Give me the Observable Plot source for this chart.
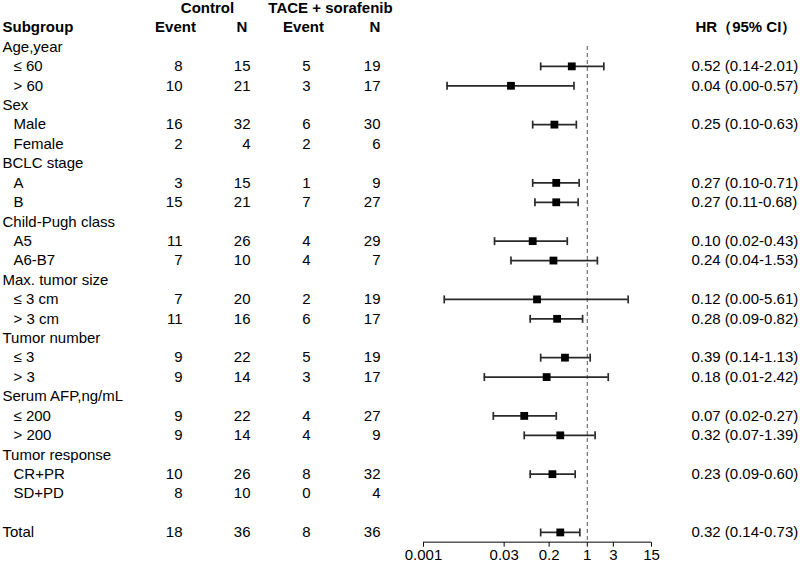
<!DOCTYPE html>
<html><head><meta charset="utf-8">
<script src="https://cdn.jsdelivr.net/npm/d3@7"></script>
<script src="https://cdn.jsdelivr.net/npm/@observablehq/plot@0.6"></script>
<style>body{margin:0;background:#fff} #chart svg{display:block}</style>
</head><body><div id="chart"></div>
<script>
// ---- data ----
const subgroups = ["Age,year","≤ 60","> 60","Sex","Male","Female","BCLC stage","A","B",
  "Child-Pugh class","A5","A6-B7","Max. tumor size","≤ 3 cm","> 3 cm","Tumor number","≤ 3","> 3",
  "Serum AFP,ng/mL","≤ 200","> 200","Tumor response","CR+PR","SD+PD","","Total"];
const indentLevel = [0,1,1,0,1,1,0,1,1,0,1,1,0,1,1,0,1,1,0,1,1,0,1,1,0,0];
const ctrlEvent = [null,8,10,null,16,2,null,3,15,null,11,7,null,7,11,null,9,9,null,9,9,null,10,8,null,18];
const ctrlN     = [null,15,21,null,32,4,null,15,21,null,26,10,null,20,16,null,22,14,null,22,14,null,26,10,null,36];
const trtEvent  = [null,5,3,null,6,2,null,1,7,null,4,4,null,2,6,null,5,3,null,4,4,null,8,0,null,8];
const trtN      = [null,19,17,null,30,6,null,9,27,null,29,7,null,19,17,null,19,17,null,27,9,null,32,4,null,36];
const hr   = [null,0.52,0.04,null,0.25,null,null,0.27,0.27,null,0.10,0.24,null,0.12,0.28,null,0.39,0.18,null,0.07,0.32,null,0.23,null,null,0.32];
const ciLo = [null,0.14,0.0027,null,0.10,null,null,0.10,0.11,null,0.02,0.04,null,0.0024,0.09,null,0.14,0.013,null,0.019,0.07,null,0.09,null,null,0.14];
const ciHi = [null,2.01,0.57,null,0.63,null,null,0.71,0.68,null,0.43,1.53,null,5.61,0.82,null,1.13,2.42,null,0.27,1.39,null,0.60,null,null,0.73];
const hrLabel = ["","0.52 (0.14-2.01)","0.04 (0.00-0.57)","","0.25 (0.10-0.63)","","","0.27 (0.10-0.71)","0.27 (0.11-0.68)",
  "","0.10 (0.02-0.43)","0.24 (0.04-1.53)","","0.12 (0.00-5.61)","0.28 (0.09-0.82)","","0.39 (0.14-1.13)","0.18 (0.01-2.42)",
  "","0.07 (0.02-0.27)","0.32 (0.07-1.39)","","0.23 (0.09-0.60)","","","0.32 (0.14-0.73)"];
const groupTitles = ["Control", "TACE + sorafenib"];
const colHeaders = ["Subgroup","Event","N","Event","N","HR（95% CI）"];
const xTicks = [0.001, 0.03, 0.2, 1, 3, 15];
const xDomain = [0.001, 15];

// ---- table built from arrays ----
const rows = subgroups.map((label, i) => ({
  row: i + 1, label, level: indentLevel[i],
  ce: ctrlEvent[i], cn: ctrlN[i], te: trtEvent[i], tn: trtN[i],
  hr: hr[i], lo: ciLo[i], hi: ciHi[i], hrLabel: hrLabel[i]
}));
const est = rows.filter(d => d.hr != null);

// ---- layout ----
const W = 800, H = 563;
const fL = 423, fR = 651;           // forest frame left/right
const rowStep = 19.42, yTop = 7.6;  // pixel position of row -1
const axisRow = rows.length + 0.5;  // axis sits half a row below the last row
const yBottom = yTop + (axisRow + 1) * rowStep;
const mL = fL, mR = W - fR, mT = 46, mB = H - yBottom;
const font = "Liberation Sans, Arial, Helvetica, sans-serif";
const fs = 15;
const col = x => x - fL;            // dx offset from frame left
const capSymbol = {draw(ctx, size) { const h = Math.sqrt(size / Math.PI); ctx.moveTo(0, -h); ctx.lineTo(0, h); }};
const tickSymbol = {draw(ctx, size) { const h = Math.sqrt(size / Math.PI); ctx.moveTo(0, 0); ctx.lineTo(0, h); }};

const T = (data, opts) => Plot.text(data, {frameAnchor: "left", fontSize: fs, fill: "#000", ...opts});

const chart = Plot.plot({
  width: W, height: H,
  marginLeft: mL, marginRight: mR, marginTop: mT, marginBottom: mB,
  style: {fontFamily: font, background: "#fff"},
  x: {type: "log", domain: xDomain, axis: null},
  y: {type: "linear", domain: [-1, axisRow], range: [yTop, yBottom], axis: null},
  marks: [
    // group titles
    T([{row: -1, t: groupTitles[0]}], {y: "row", text: "t", textAnchor: "middle", dx: col(207), fontWeight: "bold"}),
    T([{row: -1, t: groupTitles[1]}], {y: "row", text: "t", textAnchor: "middle", dx: col(330), fontWeight: "bold"}),
    // column headers
    T([{row: 0, t: colHeaders[0]}], {y: "row", text: "t", textAnchor: "start", dx: col(2), fontWeight: "bold"}),
    T([{row: 0, t: colHeaders[1]}], {y: "row", text: "t", textAnchor: "middle", dx: col(175), fontWeight: "bold"}),
    T([{row: 0, t: colHeaders[2]}], {y: "row", text: "t", textAnchor: "middle", dx: col(241.5), fontWeight: "bold"}),
    T([{row: 0, t: colHeaders[3]}], {y: "row", text: "t", textAnchor: "middle", dx: col(303), fontWeight: "bold"}),
    T([{row: 0, t: colHeaders[4]}], {y: "row", text: "t", textAnchor: "middle", dx: col(374.5), fontWeight: "bold"}),
    T([{row: 0, t: colHeaders[5]}], {y: "row", text: "t", textAnchor: "start", dx: col(695), fontWeight: "bold"}),
    // subgroup labels
    T(rows.filter(d => d.level === 0), {y: "row", text: "label", textAnchor: "start", dx: col(2)}),
    T(rows.filter(d => d.level === 1), {y: "row", text: "label", textAnchor: "start", dx: col(13)}),
    // counts
    T(rows.filter(d => d.ce != null), {y: "row", text: d => String(d.ce), textAnchor: "end", dx: col(182)}),
    T(rows.filter(d => d.cn != null), {y: "row", text: d => String(d.cn), textAnchor: "end", dx: col(250)}),
    T(rows.filter(d => d.te != null), {y: "row", text: d => String(d.te), textAnchor: "end", dx: col(310)}),
    T(rows.filter(d => d.tn != null), {y: "row", text: d => String(d.tn), textAnchor: "end", dx: col(380)}),
    // HR labels
    T(est, {y: "row", text: "hrLabel", textAnchor: "start", dx: col(691)}),
    // reference line
    Plot.ruleX([1], {stroke: "#555", strokeWidth: 1, strokeDasharray: "4,3"}),
    // CI whiskers
    Plot.ruleY(est, {y: "row", x1: "lo", x2: "hi", stroke: "#2a2a2a", strokeWidth: 1.7}),
    Plot.dot(est, {x: "lo", y: "row", symbol: capSymbol, r: 4, stroke: "#2a2a2a", strokeWidth: 1.7, fill: "none"}),
    Plot.dot(est, {x: "hi", y: "row", symbol: capSymbol, r: 4, stroke: "#2a2a2a", strokeWidth: 1.7, fill: "none"}),
    // point estimates
    Plot.dot(est, {x: "hr", y: "row", symbol: "square", r: 4.4, fill: "#000", stroke: "none"}),
    // x axis: line, ticks, labels
    Plot.ruleY([axisRow], {x1: xDomain[0], x2: xDomain[1], stroke: "#000", strokeWidth: 1}),
    Plot.dot(xTicks, {x: d => d, y: () => axisRow, symbol: tickSymbol, r: 4.5, stroke: "#000", strokeWidth: 1, fill: "none"}),
    Plot.text(xTicks, {x: d => d, y: () => axisRow, text: d => String(d), lineAnchor: "top", dy: 7, fontSize: fs, fill: "#000"})
  ]
});
document.getElementById("chart").appendChild(chart);
</script></body></html>
